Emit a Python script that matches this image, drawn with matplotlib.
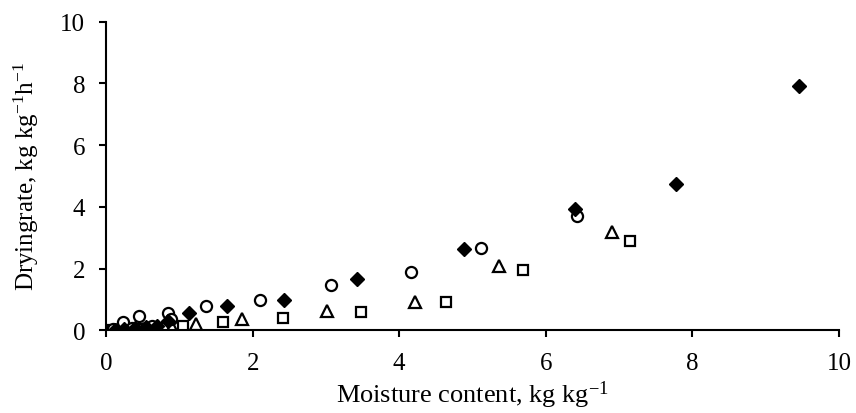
import numpy as np
import matplotlib
matplotlib.use('Agg')
import matplotlib.pyplot as plt

plt.rcParams['font.family'] = ['Liberation Serif', 'DejaVu Serif']
plt.rcParams['mathtext.fontset'] = 'custom'
plt.rcParams['mathtext.rm'] = 'Liberation Serif'
plt.rcParams['mathtext.it'] = 'Liberation Serif:italic'

# data
dia_x = [0.12, 0.25, 0.40, 0.55, 0.70, 0.85, 1.13, 1.65, 2.43, 3.43, 4.89, 6.40, 7.78, 9.46]
dia_y = [0.02, 0.04, 0.06, 0.10, 0.15, 0.30, 0.55, 0.80, 0.98, 1.65, 2.63, 3.92, 4.73, 7.92]

circ_x = [0.10, 0.23, 0.35, 0.45, 0.62, 0.85, 0.88, 1.36, 2.10, 3.07, 4.16, 5.11, 6.43]
circ_y = [0.03, 0.25, 0.08, 0.45, 0.15, 0.55, 0.35, 0.77, 0.98, 1.47, 1.90, 2.66, 3.69]

tri_x = [0.15, 0.30, 0.50, 0.70, 0.90, 1.23, 1.85, 3.01, 4.21, 5.36, 6.90]
tri_y = [0.01, 0.02, 0.03, 0.03, 0.10, 0.19, 0.36, 0.62, 0.93, 2.08, 3.19]

sq_x = [0.10, 0.20, 0.35, 0.50, 0.65, 0.80, 1.05, 1.60, 2.42, 3.48, 4.64, 5.69, 7.15]
sq_y = [0.01, 0.02, 0.03, 0.04, 0.06, 0.08, 0.14, 0.25, 0.38, 0.59, 0.90, 1.95, 2.89]

fig = plt.figure(figsize=(8.56, 4.14), dpi=100)
ax = fig.add_axes([0.124, 0.2, 0.856, 0.745])

ax.plot(sq_x, sq_y, 's', ms=7.5, mfc='white', mec='black', mew=1.6, ls='none')
ax.plot(tri_x, tri_y, '^', ms=8.5, mfc='white', mec='black', mew=1.6, ls='none')
ax.plot(circ_x, circ_y, 'o', ms=8, mfc='white', mec='black', mew=1.6, ls='none')
ax.plot(dia_x, dia_y, 'D', ms=7.5, mfc='black', mec='black', ls='none')

ax.set_xlim(0, 10)
ax.set_ylim(0, 10)
ax.set_xticks([0, 2, 4, 6, 8, 10])
ax.set_yticks([0, 2, 4, 6, 8, 10])
ax.spines['top'].set_visible(False)
ax.spines['right'].set_visible(False)
ax.spines['left'].set_linewidth(1.5)
ax.spines['bottom'].set_linewidth(1.5)
ax.tick_params(direction='out', length=5, width=1.5, labelsize=18)
ax.tick_params(axis='y', pad=10)
ax.tick_params(axis='x', pad=11)

ax.set_xlabel('Moisture content, kg kg$^{-1}$', fontsize=19, labelpad=3)
ax.set_ylabel('Dryingrate, kg kg$^{-1}$h$^{-1}$', fontsize=18, labelpad=14)

for lab in ax.get_xticklabels() + ax.get_yticklabels():
    lab.set_clip_on(False)

fig.savefig('out.png', dpi=100)
